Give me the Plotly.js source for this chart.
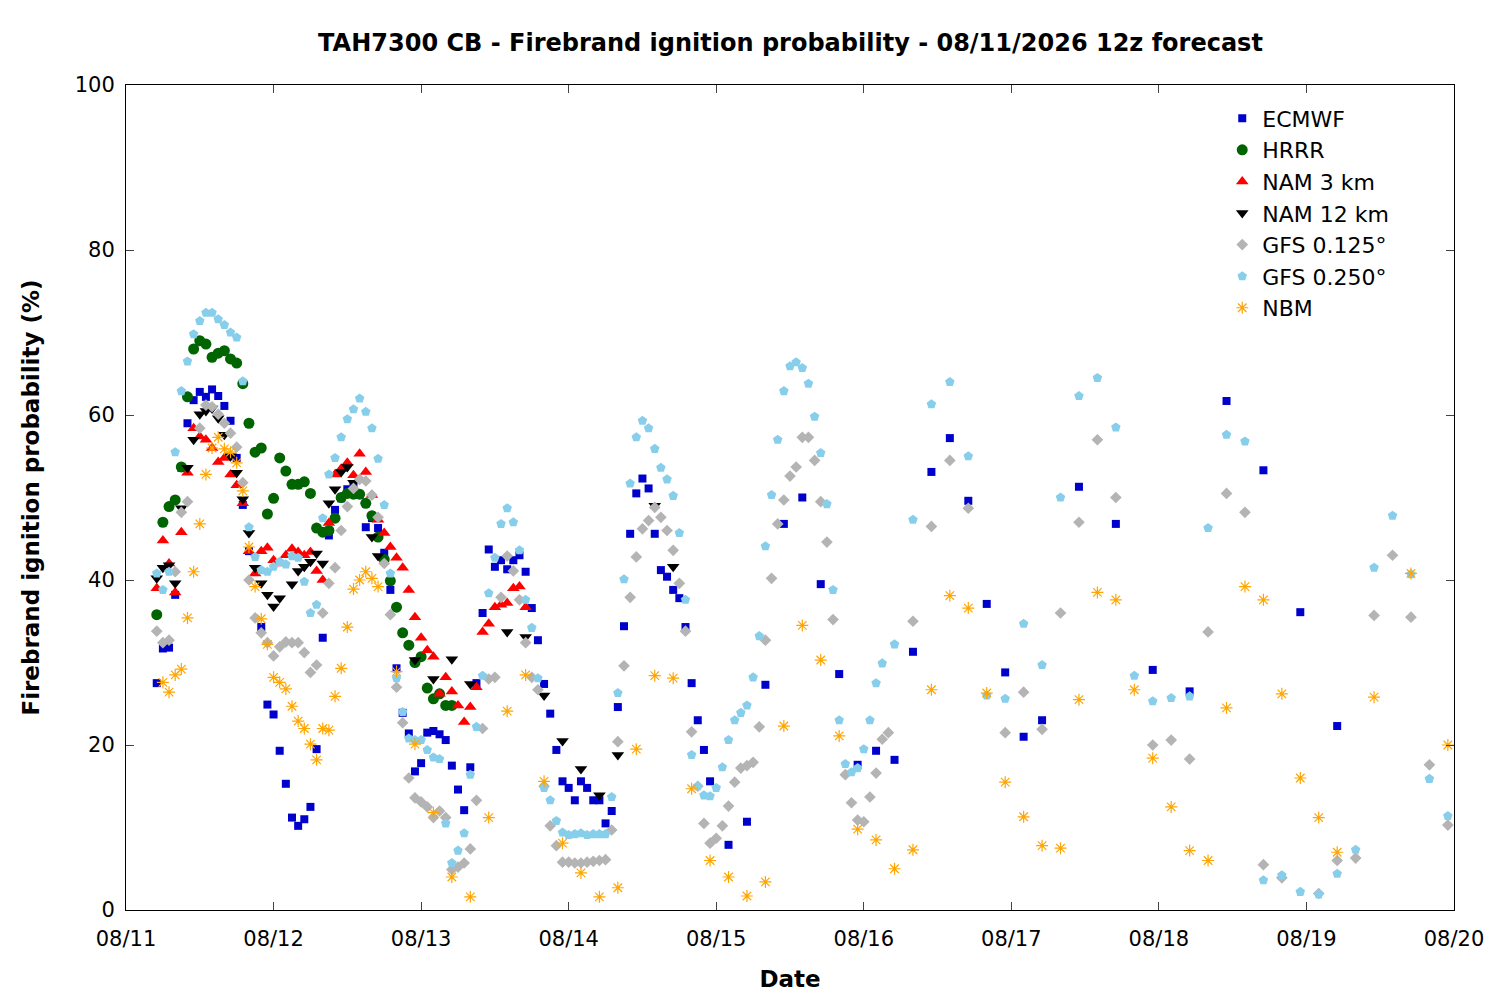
<!DOCTYPE html>
<html>
<head>
<meta charset="utf-8">
<script src="https://cdn.plot.ly/plotly-3.0.1.min.js"></script>
<style>body{margin:0;background:#fff}</style>
</head>
<body>
<div id="chart" style="width:1500px;height:1000px"></div>
<script>
// hours after 08/11 00:00
const tickLabels = ["08/11","08/12","08/13","08/14","08/15","08/16","08/17","08/18","08/19","08/20"];

const ecmwfHours = [5,6,7,8,9,10,11,12,13,14,15,16,17,18,19,20,22,23,24,25,26,27,28,29,30,31,32,33,34,35,36,37,38,39,40,41,42,43,44,45,46,47,48,49,50,51,52,53,54,55,56,57,58,59,60,61,62,63,64,65,66,67,68,69,70,71,72,73,74,75,76,77,78,79,80,81,82,83,84,85,86,87,88,89,90,91,92,93,94,95,98,101,104,107,110,113,116,119,122,125,128,131,134,137,140,143,146,149,155,161,167,173,179,185,191,197];
const ecmwfVals = [27.5,31.7,31.8,38.2,53.6,59,61.8,62.8,62.2,63.1,62.3,61.1,59.3,54.8,49.1,43.5,34.3,24.9,23.7,19.3,15.3,11.2,10.2,11,12.5,19.5,33,45.4,48.5,49.9,51,51.5,50.3,46.4,47.5,46.3,43.3,38.8,29.3,23.9,21.4,16.8,17.8,21.5,21.7,21.3,20.6,17.5,14.6,12.1,17.3,27.5,36,43.7,41.6,42.4,41.3,42.4,43,41,36.6,32.7,27.4,23.8,19.4,15.6,14.8,13.3,15.6,14.8,13.3,13.3,10.5,12,24.6,34.4,45.6,50.5,52.3,51.1,45.6,41.2,40.4,38.8,37.8,34.3,27.5,23,19.4,15.6,7.9,10.7,27.3,46.8,50,39.5,28.6,17.6,19.3,18.2,31.3,53.1,57.2,49.6,37.1,28.8,21,23,51.3,46.8,29.1,26.5,61.7,53.3,36.1,22.3];

const hrrrHours = [5,6,7,8,9,10,11,12,13,14,15,16,17,18,19,20,21,22,23,24,25,26,27,28,29,30,31,32,33,34,35,36,37,38,39,40,41,42,43,44,45,46,47,48,49,50,51,52,53];
const hrrrVals = [35.8,47,48.9,49.7,53.7,62.2,68,69,68.6,67,67.5,67.8,66.8,66.3,63.8,59,55.5,56,48,49.9,54.8,53.2,51.6,51.6,51.9,50.5,46.3,45.8,46,47.5,50,50.5,50.4,50.4,49.3,47.8,45.2,42.5,39.9,36.7,33.6,32.1,30,30.7,26.9,25.6,26.2,24.8,24.8];

const nam3Hours = [5,6,7,8,9,10,11,12,13,14,15,16,17,18,19,20,21,22,23,24,25,26,27,28,29,30,31,32,33,34,35,36,37,38,39,40,41,42,43,44,45,46,47,48,49,50,51,52,53,54,55,56,57,58,59,60,61,62,63,64,65];
const nam3Vals = [39,44.8,42,38.5,45.8,53,58.4,57.4,57,56,54.3,54.8,52.8,51.5,49.3,43.5,40.8,43.5,43.9,42.4,42,43,43.8,43.4,43,43.4,41.1,40,46.9,52.8,53.5,54.2,52.7,55.3,53.1,50.3,47.3,45.7,44,42.7,41.5,38.8,35.5,33,31.5,30.7,26.2,28.2,26.5,24.8,22.8,24.6,27,33.7,34.7,36.7,37,37.2,39,39.2,36.7];

const nam12Hours = [5,6,7,8,9,10,11,12,13,14,15,16,17,18,19,20,21,22,23,24,25,27,28,29,30,31,32,33,34,35,36,37,40,41,47,50,53,56,62,65,68,71,74,77,80,86,89];
const nam12Vals = [40.2,41.5,41.8,39.6,48.7,53.6,57,60.1,60.5,60.8,59.6,57.6,55,53,49.8,45.7,41.5,39.6,38.2,36.8,37.8,39.5,41.1,41.6,42.2,43.2,42,49.3,51,53.1,53.7,51.8,45.2,42.9,30.3,28,30.4,27.4,33.7,33.1,26,20.5,17.1,13.9,18.8,49,41.6];

const gfs125Hours = [5,6,7,8,9,10,12,13,14,15,16,17,18,19,20,21,22,23,24,25,26,27,28,29,30,31,32,33,34,35,36,37,38,39,40,41,42,43,44,45,46,47,48,49,50,51,52,53,54,55,56,57,58,59,60,61,62,63,64,65,66,67,68,69,70,71,72,73,74,75,76,77,78,79,80,81,82,83,84,85,86,87,88,89,90,91,92,93,94,95,96,97,98,99,100,101,102,103,104,105,106,107,108,109,110,111,112,113,114,115,117,118,119,120,121,122,123,124,128,131,134,137,143,146,149,152,155,158,161,167,170,173,176,179,182,185,188,194,197,200,203,206,209,212,215];
const gfs125Vals = [33.8,32.4,32.7,41,48.2,49.5,58.4,61.2,61,60.1,59,57.8,56.1,51.8,40,35.4,33.6,32.4,30.8,31.9,32.5,32.4,32.4,31.2,28.8,29.7,36,39.6,41.5,46,48.9,51.1,52.2,52,50.3,47.6,42,35.8,27,22.7,16,13.6,13.1,12.5,11.2,12,11.2,4.9,5.2,5.7,7.4,13.3,22,28,28.2,37.9,42.9,41.1,37.6,32.4,28.2,26.7,15,10.2,7.8,5.8,5.8,5.7,5.7,5.8,5.9,6,6.1,9.7,20.4,29.6,37.9,42.8,46.2,47.2,48.8,47.6,46,43.6,39.6,33.8,21.6,15,10.5,8.1,8.7,10.2,12.6,15.5,17.2,17.5,17.9,22.2,32.7,40.2,46.8,49.7,52.6,53.7,57.3,57.3,54.5,49.5,44.6,35.2,16.4,13,10.9,10.7,13.7,16.6,20.7,21.5,35,46.5,54.5,48.7,21.5,26.4,21.9,36,47,57,50,20,20.6,18.3,33.7,50.5,48.2,5.5,3.9,2,6,6.3,35.7,43,35.5,17.6,10.3];

const gfs250Hours = [5,6,7,8,9,10,11,12,13,14,15,16,17,18,19,20,21,22,23,24,25,26,27,28,29,30,31,32,33,34,35,36,37,38,39,40,41,42,43,44,45,46,47,48,49,50,51,52,53,54,55,56,57,58,59,60,61,62,63,64,65,66,67,68,69,70,71,72,73,74,75,76,77,78,79,80,81,82,83,84,85,86,87,88,89,90,91,92,93,94,95,96,97,98,99,100,101,102,103,104,105,106,107,108,109,110,111,112,113,114,115,116,117,118,119,120,121,122,123,125,128,131,134,137,140,143,146,149,152,155,158,161,164,167,170,173,176,179,182,185,188,191,194,197,200,203,206,209,212,215];
const gfs250Vals = [40.8,38.8,41,55.5,62.9,66.5,69.8,71.4,72.4,72.4,71.6,70.9,70,69.4,64.1,46.4,42.8,41.2,41,41.6,42.2,41.9,42.9,42.7,39.8,36,37,47.5,52.8,54.8,57.3,59.5,60.7,62,60.4,58.4,54.7,49.1,40.8,28.1,24,20.8,20.6,20.6,19.4,18.5,18.3,10.5,5.7,7.2,9.3,16.4,22.2,28.4,38.4,42.7,46.8,48.7,47,43.6,37.6,34.2,28.1,14.8,13.3,10.8,9.4,9.1,9.2,9.3,9.1,9.2,9.2,9.2,13.7,26.3,40.1,51.7,57.3,59.3,58.4,55.9,53.6,52.2,50.2,45.7,37.6,18.8,15,13.9,13.8,14.8,17.3,20.6,23,23.9,24.8,28.2,33.2,44.1,50.3,57,62.9,65.9,66.4,65.7,63.8,59.8,55.4,49.2,38.8,23,17.7,16.7,17.2,19.5,23,27.5,29.9,32.2,47.3,61.3,64,55,26,25.6,34.7,29.7,50,62.3,64.5,58.5,28.4,25.3,25.7,25.9,46.3,57.6,56.8,3.6,4.2,2.2,1.9,4.4,7.3,41.5,47.8,40.7,15.9,11.4];

const nbmHours = [6,7,8,9,10,11,12,13,14,15,16,17,18,19,20,21,22,23,24,25,26,27,28,29,30,31,32,33,34,35,36,37,38,39,40,41,44,47,50,53,56,59,62,65,68,71,74,77,80,83,86,89,92,95,98,101,104,107,110,113,116,119,122,125,128,131,134,137,140,143,146,149,152,155,158,161,164,167,170,173,176,179,182,185,188,191,194,197,203,209,215];
const nbmVals = [27.6,26.4,28.5,29.2,35.4,41,46.8,52.8,56,57.3,55.9,55.5,54.2,50.8,44,39.2,35.3,32.2,28.2,27.6,26.8,24.7,22.9,22,20.1,18.2,22,21.8,25.9,29.3,34.3,38.9,40,41,40.2,39.2,28.9,20.1,11.8,4,1.6,11.2,24.1,28.5,15.6,8.1,4.5,1.6,2.7,19.5,28.4,28.1,14.7,6,4,1.7,3.4,22.3,34.5,30.3,21.1,9.8,8.5,5,7.3,26.7,38.1,36.6,26.3,15.5,11.3,7.8,7.5,25.5,38.5,37.6,26.7,18.4,12.5,7.2,6,24.5,39.2,37.6,26.2,16,11.2,7,25.8,40.8,20];

const series = [
  {name: "ECMWF", x: ecmwfHours, y: ecmwfVals, marker: {symbol: "square", size: 8, color: "#0000cd"}},
  {name: "HRRR", x: hrrrHours, y: hrrrVals, marker: {symbol: "circle", size: 11, color: "#006400"}},
  {name: "NAM 3 km", x: nam3Hours, y: nam3Vals, marker: {symbol: "triangle-up", size: 11, color: "#ff0000"}},
  {name: "NAM 12 km", x: nam12Hours, y: nam12Vals, marker: {symbol: "triangle-down", size: 11, color: "#000000"}},
  {name: "GFS 0.125°", x: gfs125Hours, y: gfs125Vals, marker: {symbol: "diamond", size: 9, color: "#b4b4b4"}},
  {name: "GFS 0.250°", x: gfs250Hours, y: gfs250Vals, marker: {symbol: "pentagon", size: 10, color: "#87ceeb"}},
  {name: "NBM", x: nbmHours, y: nbmVals, marker: {symbol: "asterisk-open", size: 10, color: "#ffa500", line: {width: 1.2, color: "#ffa500"}}}
];

const data = series.map(s => ({
  x: s.x, y: s.y, name: s.name, type: "scatter", mode: "markers", marker: s.marker
}));

const font = "DejaVu Sans, Liberation Sans, sans-serif";
const layout = {
  width: 1500, height: 1000,
  margin: {l: 126, r: 46, t: 85, b: 90},
  paper_bgcolor: "#fff", plot_bgcolor: "#fff",
  font: {family: font, size: 21, color: "#000"},
  title: {text: "<b>TAH7300 CB - Firebrand ignition probability - 08/11/2026 12z forecast</b>", x: 0.527, xanchor: "center", y: 0.957, yanchor: "middle", font: {size: 24}},
  xaxis: {
    range: [0, 216], tickvals: tickLabels.map((t, i) => i * 24), ticktext: tickLabels,
    ticks: "inside", ticklen: 8, mirror: "ticks", showline: true, linecolor: "#000", linewidth: 1,
    showgrid: false, zeroline: false, ticklabelstandoff: 10,
    title: {text: "<b>Date</b>", font: {size: 23}, standoff: 20}
  },
  yaxis: {
    range: [0, 100], dtick: 20, ticks: "inside", ticklen: 8, mirror: "ticks", ticklabelstandoff: 6,
    showline: true, linecolor: "#000", linewidth: 1, showgrid: false, zeroline: false,
    title: {text: "<b>Firebrand ignition probability (%)</b>", font: {size: 23}, standoff: 28}
  },
  legend: {x: 0.955, y: 0.985, xanchor: "right", yanchor: "top", bgcolor: "rgba(0,0,0,0)", font: {size: 22}, tracegroupgap: 0},
  showlegend: true
};

Plotly.newPlot("chart", data, layout, {displayModeBar: false, staticPlot: true});
</script>
</body>
</html>
